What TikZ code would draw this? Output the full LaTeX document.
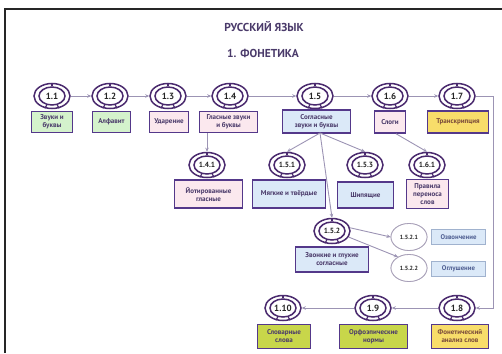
\documentclass[tikz,border=0pt]{standalone}
\usepackage{fontspec}
\setmainfont{PT Sans}
\usetikzlibrary{shapes.geometric,arrows.meta,calc}
\definecolor{dp}{HTML}{4A2A6E}
\definecolor{boxc}{HTML}{54388A}
\definecolor{txt}{HTML}{4A3A6A}
\definecolor{brn}{HTML}{7A4A3A}
\definecolor{lc}{HTML}{9C94B4}
\definecolor{lg}{HTML}{A8A0B8}
\definecolor{fgreen}{HTML}{D4F2CC}
\definecolor{fpink}{HTML}{FBE8EE}
\definecolor{fblue}{HTML}{DBE9F8}
\definecolor{fyel}{HTML}{F8DD6A}
\definecolor{folive}{HTML}{C8D64A}
\definecolor{lbord}{HTML}{A0B2CE}
\definecolor{ltxt}{HTML}{4F5F92}
\newcommand{\badge}[4][]{%
  \node[outring,#1] (#2) at (#3) {};
  \node[inring,#1] (#2i) at (#3) {#4};
  \foreach \a in {90,240,300} \draw[ringline,#1] (#2i.\a) -- (#2.\a);
}
\begin{document}
\begin{tikzpicture}[x=1pt,y=-1pt,
  outring/.style={ellipse,draw=dp,line width=1.5pt,fill=white,minimum width=36pt,minimum height=25pt,inner sep=0pt},
  inring/.style={ellipse,draw=dp,line width=1.5pt,fill=white,minimum width=26pt,minimum height=18pt,inner sep=0pt,text=black!85,font={\fontsize{9}{9}\selectfont\bfseries}},
  ringline/.style={draw=dp,line width=1.2pt},
  small/.style={font={\fontsize{7.5}{8}\selectfont\bfseries}},
  light/.style={draw=lg,line width=0.8pt,minimum width=36pt,minimum height=27pt,font={\fontsize{6}{6}\selectfont\bfseries}},
  box/.style={draw=boxc,line width=1.5pt,inner sep=1pt,align=center,text=txt,font={\fontsize{7}{8}\selectfont\bfseries}},
  bx/.style 2 args={minimum width=#1pt,minimum height=#2pt},
  lbox/.style={draw=lbord,line width=1pt,fill=fblue,inner sep=1pt,align=center,text=ltxt,font={\fontsize{6.8}{7.5}\selectfont\bfseries}},
  conn/.style={draw=lc,line width=0.9pt,-{Stealth[length=4pt,width=3.5pt]}},
  title/.style={text=txt,font={\fontsize{11.5}{12}\selectfont\bfseries}}
]
\useasboundingbox (0,0) rectangle (502,353);
\draw[line width=1.6pt,draw=black!85] (5,353) -- (5,9) -- (502,9);

\node[title] (t1) at (264,27) {РУССКИЙ ЯЗЫК};
\node[title] (t2) at (263,53) {1. ФОНЕТИКА};

% boxes row 1
\node[box,bx={41}{21},fill=fgreen] (b11) at (52,122) {Звуки и\\буквы};
\node[box,bx={38}{21},fill=fgreen] (b12) at (111.5,122) {Алфавит};
\node[box,bx={39}{21},fill=fpink] (b13) at (169,122) {Ударение};
\node[box,bx={58}{21},fill=fpink] (b14) at (228.5,122) {Гласные звуки\\и буквы};
\node[box,bx={68}{23},fill=fblue] (b15) at (316.5,121.5) {Согласные\\звуки и буквы};
\node[box,bx={31}{22},fill=fpink] (b16) at (390,122) {Слоги};
\node[box,bx={61}{22},fill=fyel,text=brn] (b17) at (458,122) {Транскрипция};

% badges row 1
\badge{c11}{52,96}{1.1}
\badge{c12}{110,96}{1.2}
\badge{c13}{168,96}{1.3}
\badge{c14}{230,96}{1.4}
\badge{c15}{315,96}{1.5}
\badge{c16}{390,96}{1.6}
\badge{c17}{457,96}{1.7}

% level 2 boxes
\node[box,bx={68}{28},fill=fpink] (b141) at (208.5,194) {Йотированные\\гласные};
\node[box,bx={73}{28},fill=fblue] (b151) at (289,194) {Мягкие и твёрдые};
\node[box,bx={56}{26},fill=fblue] (b153) at (365.5,195) {Шипящие};
\node[box,bx={42}{29},fill=fpink] (b161) at (427.5,194) {Правила\\переноса\\слов};
\node[box,bx={73}{25},fill=fblue] (b152) at (332,259.5) {Звонкие и глухие\\согласные};
\node[lbox,bx={54}{15}] (b1521) at (458.5,237) {Озвончение};
\node[lbox,bx={54}{15}] (b1522) at (458.5,268.5) {Оглушение};

\badge[small]{c141}{207,165}{1.4.1}
\badge[small]{c151}{287,165}{1.5.1}
\badge[small]{c153}{365,165}{1.5.3}
\badge[small]{c161}{427,165}{1.6.1}
\badge[small]{c152}{332,231}{1.5.2}
\badge[light]{c1521}{409,237}{1.5.2.1}
\badge[light]{c1522}{409,268}{1.5.2.2}

% row 3
\node[box,bx={53}{24},fill=folive,line width=1.8pt] (b110) at (284,336.5) {Словарные\\слова};
\node[box,bx={68}{24},fill=folive,line width=1.8pt] (b19) at (373.5,336.5) {Орфоэпические\\нормы};
\node[box,bx={57}{24},fill=fyel,text=brn,line width=1.8pt] (b18) at (460,336.5) {Фонетический\\анализ слов};
\badge{c110}{283,308}{1.10}
\badge{c19}{373,308}{1.9}
\badge{c18}{457,308}{1.8}

% connectors
\draw[conn] (c11.east) -- (c12.west);
\draw[conn] (c12.east) -- (c13.west);
\draw[conn] (c13.east) -- (c14.west);
\draw[conn] (c14.east) -- (c15.west);
\draw[conn] (c15.east) -- (c16.west);
\draw[conn] (c16.east) -- (c17.west);
\coordinate (turn) at (493,96);
\draw[conn] (c17.east) -- (turn) |- (c18.east);
\draw[conn] (c18.west) -- (c19.east);
\draw[conn] (c19.west) -- (c110.east);

\draw[conn] (b14.south -| c141.north) -- (c141.north);
\coordinate (fan) at (320,133);
\draw[conn] (fan) -- (c151.north);
\draw[conn] (fan) -- (c153.north);
\draw[conn] (fan) -- (c152.north);
\draw[conn] ($(b16.south)+(6,0)$) -- (c161.north);
\draw[conn] (c152.10) -- (c1521.west);
\draw[conn] (c152.-20) -- (c1522.135);
\end{tikzpicture}
\end{document}
